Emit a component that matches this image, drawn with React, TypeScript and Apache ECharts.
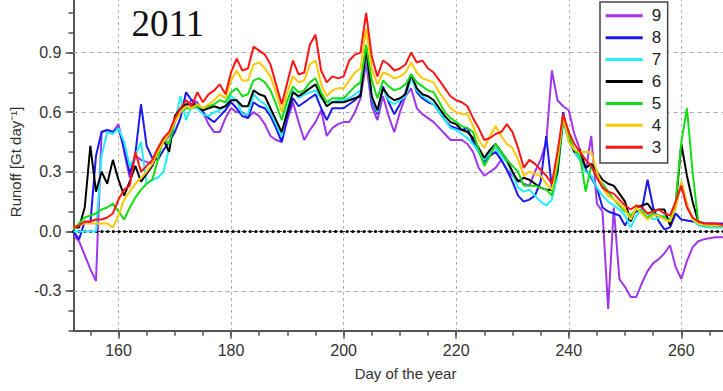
import React, { useEffect, useRef } from 'react';
import * as echarts from 'echarts';

const FIRST_DAY = 152;

// Runoff values, one per day from day 152 to day 268
const s9 = [
  -0.02, -0.05, -0.12, -0.19, -0.25, 0.50, 0.51, 0.50, 0.54, 0.40,
  0.27, 0.38, 0.36, 0.35, 0.34, 0.40, 0.45, 0.48, 0.55, 0.61,
  0.63, 0.66, 0.65, 0.60, 0.54, 0.50, 0.50, 0.57, 0.62, 0.60,
  0.60, 0.57, 0.60, 0.58, 0.54, 0.48, 0.46, 0.45, 0.56, 0.65,
  0.55, 0.46, 0.51, 0.55, 0.61, 0.48, 0.52, 0.54, 0.55, 0.55,
  0.60, 0.67, 0.85, 0.63, 0.56, 0.68, 0.58, 0.50, 0.60, 0.68,
  0.72, 0.62, 0.59, 0.57, 0.55, 0.52, 0.49, 0.46, 0.46, 0.46,
  0.44, 0.40, 0.32, 0.28, 0.30, 0.32, 0.36, 0.31, 0.28, 0.26,
  0.24, 0.23, 0.30, 0.36, 0.45, 0.81, 0.66, 0.63, 0.61, 0.49,
  0.41, 0.30, 0.48, 0.14, 0.10, -0.39, 0.12, -0.24, -0.28, -0.33,
  -0.33, -0.26, -0.20, -0.16, -0.14, -0.11, -0.07, -0.18, -0.24, -0.15,
  -0.08, -0.05, -0.04, -0.035, -0.03, -0.03, -0.03,
];
const s8 = [
  0.00, -0.04, 0.05, 0.04, 0.38, 0.50, 0.51, 0.50, 0.52, 0.42,
  0.29, 0.39, 0.64, 0.43, 0.37, 0.36, 0.41, 0.45, 0.50, 0.57,
  0.70, 0.66, 0.63, 0.60, 0.57, 0.55, 0.58, 0.61, 0.65, 0.62,
  0.58, 0.57, 0.65, 0.63, 0.62, 0.58, 0.52, 0.45, 0.58, 0.67,
  0.63, 0.65, 0.67, 0.69, 0.62, 0.56, 0.62, 0.62, 0.62, 0.64,
  0.66, 0.69, 0.93, 0.66, 0.59, 0.73, 0.65, 0.59, 0.64, 0.70,
  0.79, 0.70, 0.67, 0.65, 0.64, 0.60, 0.56, 0.53, 0.52, 0.51,
  0.52, 0.45, 0.40, 0.35, 0.38, 0.40, 0.36, 0.31, 0.25, 0.18,
  0.15, 0.16, 0.18, 0.25, 0.48, 0.22, 0.32, 0.60, 0.46, 0.40,
  0.36, 0.31, 0.27, 0.22, 0.12, 0.10, 0.09, 0.08, 0.03, 0.08,
  0.10, 0.11, 0.26, 0.12, 0.05, 0.01, 0.02, 0.09, 0.06, 0.055,
  0.05, 0.045, 0.04, 0.04, 0.04, 0.04, 0.04,
];
const s7 = [
  0.00, 0.00, 0.00, 0.00, 0.00, 0.38, 0.50, 0.49, 0.52, 0.45,
  0.33, 0.38, 0.45, 0.24, 0.26, 0.27, 0.30, 0.42, 0.55, 0.68,
  0.56, 0.63, 0.62, 0.59, 0.58, 0.60, 0.61, 0.63, 0.68, 0.66,
  0.59, 0.59, 0.69, 0.66, 0.64, 0.60, 0.54, 0.48, 0.62, 0.71,
  0.67, 0.69, 0.70, 0.71, 0.67, 0.65, 0.65, 0.66, 0.66, 0.67,
  0.69, 0.71, 0.90, 0.67, 0.60, 0.72, 0.66, 0.64, 0.66, 0.68,
  0.77, 0.71, 0.68, 0.66, 0.64, 0.60, 0.56, 0.52, 0.51, 0.49,
  0.47, 0.44, 0.40, 0.36, 0.40, 0.42, 0.38, 0.35, 0.29, 0.22,
  0.20, 0.21, 0.18, 0.15, 0.13, 0.16, 0.28, 0.55, 0.45, 0.40,
  0.36, 0.30, 0.28, 0.22, 0.18, 0.15, 0.13, 0.11, 0.08, 0.02,
  0.08, 0.11, 0.09, 0.06, 0.07, 0.08, 0.06, 0.12, 0.25, 0.14,
  0.06, 0.03, 0.025, 0.02, 0.02, 0.02, 0.02,
];
const s6 = [
  0.02, 0.02, 0.12, 0.43, 0.20, 0.30, 0.24, 0.36, 0.26, 0.18,
  0.25, 0.33, 0.25, 0.29, 0.33, 0.40, 0.46, 0.40, 0.58, 0.62,
  0.64, 0.64, 0.63, 0.61, 0.62, 0.63, 0.62, 0.63, 0.66, 0.66,
  0.63, 0.63, 0.71, 0.69, 0.68, 0.62, 0.56, 0.50, 0.60, 0.70,
  0.68, 0.70, 0.72, 0.74, 0.68, 0.63, 0.65, 0.65, 0.65, 0.66,
  0.67, 0.68, 0.92, 0.68, 0.61, 0.72, 0.68, 0.66, 0.67, 0.69,
  0.79, 0.72, 0.69, 0.68, 0.66, 0.62, 0.58, 0.55, 0.54, 0.51,
  0.50, 0.47, 0.42, 0.37, 0.41, 0.44, 0.40, 0.36, 0.30, 0.25,
  0.27, 0.26, 0.24, 0.22, 0.21, 0.21, 0.30, 0.57, 0.47, 0.40,
  0.41, 0.32, 0.34, 0.30, 0.26, 0.24, 0.23, 0.19, 0.15, 0.05,
  0.12, 0.13, 0.14, 0.10, 0.11, 0.11, 0.03, 0.13, 0.44, 0.28,
  0.15, 0.05, 0.04, 0.035, 0.03, 0.03, 0.03,
];
const s5 = [
  0.01, 0.04, 0.07, 0.08, 0.09, 0.11, 0.12, 0.14, 0.10, 0.06,
  0.12, 0.17, 0.21, 0.24, 0.26, 0.36, 0.47, 0.44, 0.55, 0.60,
  0.62, 0.62, 0.63, 0.62, 0.63, 0.64, 0.66, 0.65, 0.70, 0.72,
  0.68, 0.69, 0.76, 0.77, 0.75, 0.71, 0.64, 0.56, 0.66, 0.73,
  0.70, 0.71, 0.75, 0.77, 0.70, 0.65, 0.67, 0.67, 0.67, 0.70,
  0.73, 0.75, 0.94, 0.76, 0.67, 0.76, 0.73, 0.71, 0.72, 0.74,
  0.79, 0.75, 0.73, 0.71, 0.70, 0.65, 0.60, 0.57, 0.55, 0.53,
  0.52, 0.50, 0.41, 0.33, 0.38, 0.44, 0.40, 0.36, 0.33, 0.30,
  0.23, 0.23, 0.23, 0.22, 0.21, 0.18, 0.33, 0.56, 0.48, 0.41,
  0.38, 0.20, 0.33, 0.27, 0.24, 0.20, 0.16, 0.13, 0.10, 0.08,
  0.11, 0.10, 0.07, 0.09, 0.08, 0.07, 0.05, 0.15, 0.45, 0.62,
  0.30, 0.05, 0.03, 0.03, 0.03, 0.03, 0.03,
];
const s4 = [
  0.02, 0.03, 0.04, 0.04, 0.04, 0.04, 0.04, 0.02, 0.08, 0.16,
  0.20, 0.24, 0.27, 0.30, 0.34, 0.40, 0.45, 0.49, 0.55, 0.60,
  0.63, 0.62, 0.64, 0.62, 0.64, 0.66, 0.69, 0.67, 0.76, 0.81,
  0.76, 0.76, 0.84, 0.85, 0.82, 0.78, 0.70, 0.60, 0.70, 0.78,
  0.75, 0.76, 0.84, 0.86, 0.74, 0.68, 0.71, 0.72, 0.72, 0.76,
  0.80, 0.82, 1.02, 0.82, 0.74, 0.80, 0.79, 0.77, 0.78, 0.80,
  0.85, 0.80, 0.77, 0.76, 0.75, 0.70, 0.66, 0.62, 0.60, 0.59,
  0.59, 0.53, 0.46, 0.42, 0.48, 0.53, 0.48, 0.44, 0.42, 0.36,
  0.28, 0.30, 0.29, 0.28, 0.24, 0.21, 0.36, 0.58, 0.45, 0.41,
  0.40, 0.40, 0.40, 0.30, 0.22, 0.18, 0.16, 0.14, 0.11, 0.06,
  0.12, 0.09, 0.06, 0.08, 0.08, 0.06, 0.05, 0.12, 0.25, 0.14,
  0.06, 0.04, 0.035, 0.03, 0.03, 0.03, 0.03,
];
const s3 = [
  0.02, 0.03, 0.05, 0.05, 0.06, 0.06, 0.07, 0.09, 0.16, 0.21,
  0.23, 0.40, 0.30, 0.33, 0.36, 0.42, 0.47, 0.50, 0.57, 0.62,
  0.66, 0.63, 0.70, 0.65, 0.69, 0.71, 0.74, 0.69, 0.80, 0.87,
  0.81, 0.82, 0.93, 0.91, 0.89, 0.84, 0.74, 0.64, 0.75, 0.86,
  0.79, 0.80, 0.94, 0.99, 0.81, 0.75, 0.78, 0.77, 0.78, 0.86,
  0.89, 0.90, 1.10, 0.88, 0.78, 0.86, 0.84, 0.81, 0.82, 0.84,
  0.90, 0.85, 0.86, 0.82, 0.80, 0.76, 0.72, 0.68, 0.66, 0.65,
  0.63, 0.57, 0.52, 0.46, 0.47, 0.49, 0.50, 0.54, 0.50, 0.42,
  0.32, 0.36, 0.34, 0.31, 0.28, 0.24, 0.40, 0.59, 0.50, 0.44,
  0.40, 0.36, 0.33, 0.27, 0.22, 0.20, 0.19, 0.16, 0.13, 0.11,
  0.13, 0.12, 0.09, 0.10, 0.11, 0.09, 0.08, 0.15, 0.23, 0.12,
  0.07, 0.05, 0.04, 0.04, 0.04, 0.035, 0.03,
];

const SERIES_NAMES = ['9', '8', '7', '6', '5', '4', '3'];
const SERIES_VALUES = [s9, s8, s7, s6, s5, s4, s3];
const SERIES_COLORS = ['#a035ee', '#1a1aef', '#22eeff', '#000000', '#14dd14', '#ffc800', '#ff1414'];

const X_MAJOR = [160, 180, 200, 220, 240, 260];
const X_MINOR = [155, 160, 165, 170, 175, 180, 185, 190, 195, 200, 205, 210, 215, 220, 225, 230, 235, 240, 245, 250, 255, 260, 265, 270];
const Y_MAJOR = [-0.3, 0, 0.3, 0.6, 0.9, 1.2];
const Y_MINOR = [-0.5, -0.4, -0.3, -0.2, -0.1, 0, 0.1, 0.2, 0.3, 0.4, 0.5, 0.6, 0.7, 0.8, 0.9, 1.0, 1.1, 1.2];
const Y_GRID = [-0.3, 0.3, 0.6, 0.9];

const TITLE = '2011';
const FONT = '"Liberation Sans", Arial, sans-serif';
const AXIS_COLOR = '#555';
const GRID_COLOR = '#a8a8a8';

export default function App() {
  const ref = useRef<HTMLDivElement>(null);
  useEffect(() => {
    if (!ref.current) return;
    const chart = echarts.init(ref.current, undefined, { renderer: 'svg' });
    const gridSeries = {
      type: 'line',
      data: [],
      z: 1,
      silent: true,
      markLine: {
        silent: true,
        symbol: ['none', 'none'],
        label: { show: false },
        z: 1,
        data: [
          ...X_MAJOR.map((x) => ({ xAxis: x, lineStyle: { color: GRID_COLOR, width: 1, type: [2.5, 3.5] } })),
          ...Y_GRID.map((y) => ({ yAxis: y, lineStyle: { color: GRID_COLOR, width: 1, type: [4, 4] } })),
        ],
      },
    };
    const series: any[] = SERIES_NAMES.map((name, k) => ({
      name,
      type: 'line',
      data: SERIES_VALUES[k].map((v, i) => [FIRST_DAY + i, v]),
      showSymbol: false,
      symbol: 'none',
      clip: true,
      color: SERIES_COLORS[k],
      lineStyle: { width: 2, color: SERIES_COLORS[k] },
      z: 3 + k,
    }));
    series[series.length - 1].markLine = {
      silent: true,
      symbol: ['none', 'none'],
      label: { show: false },
      data: [
        { yAxis: 0, lineStyle: { color: '#222', width: 1.2, type: [2, 1.5] } },
        { yAxis: 0, lineStyle: { color: '#000', width: 3.2, type: [0.01, 5.69], cap: 'round' } },
      ],
    };
    const option: any = {
      animation: false,
      textStyle: { fontFamily: FONT },
      grid: { left: 66.2, right: 22.4, top: 23, bottom: 60.3, containLabel: false },
      legend: {
        data: SERIES_NAMES,
        orient: 'vertical',
        left: 600,
        top: 32,
        icon: 'rect',
        itemWidth: 37,
        itemHeight: 3,
        itemGap: 4.9,
        padding: [5.3, 6.5, 7.3, 5.7],
        borderColor: '#444',
        borderWidth: 1.5,
        backgroundColor: '#fff',
        textStyle: { fontSize: 17, lineHeight: 14, color: '#222', fontFamily: FONT, padding: [0, 0, 0, 4] },
        z: 20,
      },
      xAxis: [
        {
          type: 'value', min: 152, max: 270, position: 'bottom',
          name: 'Day of the year', nameLocation: 'middle', nameGap: 35,
          nameTextStyle: { fontSize: 15, color: '#333', fontFamily: FONT },
          axisLine: { show: true, onZero: false, lineStyle: { color: AXIS_COLOR, width: 2 } },
          axisTick: { show: true, customValues: X_MAJOR, length: 8, lineStyle: { color: AXIS_COLOR, width: 1.5 } },
          axisLabel: { customValues: X_MAJOR, fontSize: 16, color: '#333', margin: 12, fontFamily: FONT },
          splitLine: { show: false },
        },
        {
          type: 'value', min: 152, max: 270, position: 'bottom',
          axisLine: { show: false, onZero: false },
          axisTick: { show: true, customValues: X_MINOR, length: 5, lineStyle: { color: AXIS_COLOR, width: 1.5 } },
          axisLabel: { show: false },
          splitLine: { show: false },
        },
      ],
      yAxis: [
        {
          type: 'value', min: -0.5, max: 1.2, position: 'left',
          name: 'Runoff [Gt day⁻¹]', nameLocation: 'middle', nameGap: 46, nameRotate: 90,
          nameTextStyle: { fontSize: 15, color: '#333', fontFamily: FONT },
          axisLine: { show: true, onZero: false, lineStyle: { color: AXIS_COLOR, width: 2 } },
          axisTick: { show: true, customValues: Y_MAJOR, length: 8, lineStyle: { color: AXIS_COLOR, width: 1.5 } },
          axisLabel: {
            customValues: Y_MAJOR, fontSize: 16, color: '#333', margin: 12, fontFamily: FONT,
            formatter: (v: number) => v.toFixed(1),
          },
          splitLine: { show: false },
        },
        {
          type: 'value', min: -0.5, max: 1.2, position: 'left',
          axisLine: { show: false, onZero: false },
          axisTick: { show: true, customValues: Y_MINOR, length: 5, lineStyle: { color: AXIS_COLOR, width: 1.5 } },
          axisLabel: { show: false },
          splitLine: { show: false },
        },
      ],
      graphic: [
        {
          type: 'text', x: 131.5, y: 53, z: 30,
          style: { text: TITLE, font: '37px "Liberation Serif", serif', fill: '#111', align: 'left', verticalAlign: 'middle' },
        },
      ],
      series: [gridSeries, ...series],
    };
    chart.setOption(option);
    return () => chart.dispose();
  }, []);
  return (
    <div
      ref={ref}
      style={{ position: 'fixed', left: 0, top: -30, width: 760, height: 421, background: '#fff' }}
    />
  );
}
